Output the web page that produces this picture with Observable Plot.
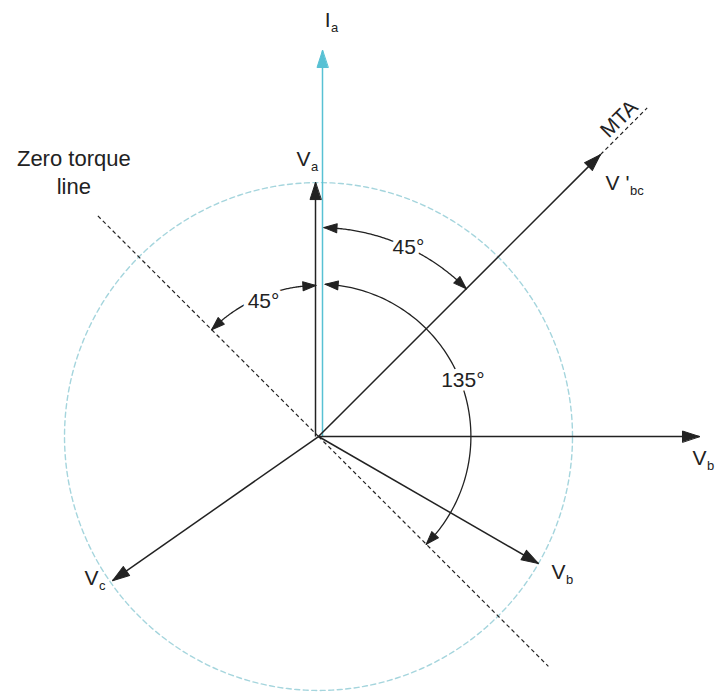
<!DOCTYPE html>
<html><head><meta charset="utf-8">
<script src="https://cdn.jsdelivr.net/npm/d3@7"></script>
<script src="https://cdn.jsdelivr.net/npm/@observablehq/plot@0.6"></script>
<style>body{margin:0;background:#fff} svg{display:block;background:#fff}</style>
</head><body><div id="chart"></div>
<script>
// ---- data (magnitudes relative to the dashed reference circle = 1) ----
const phasorNames = ["I", "V", "V", "V '", "V", "V"];
const phasorSubs = ["a", "a", "b", "bc", "b", "c"];
const phasorAngles = [90, 90, 0, 45, -30, 215];
const phasorMagnitudes = [1.52, 1.0, 1.50, 1.57, 1.0, 0.99];

const lineNames = ["MTA", "Zero torque\nline", ""];
const lineAngles = [45, 135, -45];
const lineFrom = [1.57, 0, 0];
const lineTo = [1.83, 1.24, 1.28];

const arcLabels = ["45°", "45°", "135°"];
const arcFrom = [88.5, 91, 87.5];
const arcTo = [45, 135, -45];
const arcRadius = [0.823, 0.595, 0.6];
const referenceRadius = 1;

// ---- helpers ----
const unitPx = 254; // pixels per unit with the scales below
const rad = (a) => a * Math.PI / 180;
const px = (m, a) => m * Math.cos(rad(a));
const py = (m, a) => m * Math.sin(rad(a));
const INK = "#222";
const CYAN = "#58c1d4";
const FONT = "Liberation Sans, Arial, sans-serif";

// pixel shifts (layout): parallel offset of the two vertical phasors, label offsets from tips
const shaftShift = [4, -3, 0, 0, 0, 0];
const labelOffset = [[8, -30], [-5, -23], [7, 22], [29, 29], [27, 9], [-14, -2]];

const phasors = phasorNames.map((name, i) => {
  const sx = shaftShift[i] / unitPx;
  const tx = px(phasorMagnitudes[i], phasorAngles[i]) + sx;
  const ty = py(phasorMagnitudes[i], phasorAngles[i]);
  return {
    name, sub: phasorSubs[i], angle: phasorAngles[i], i,
    x0: sx, y0: 0, tx, ty,
    lx: tx + labelOffset[i][0] / unitPx, ly: ty - labelOffset[i][1] / unitPx
  };
});

const headShape = {
  draw(ctx, l, r) { ctx.moveTo(0, -l); ctx.lineTo(-r, 0); ctx.lineTo(r, 0); ctx.closePath(); }
};

const dashed = lineNames.map((name, i) => ({name, angle: lineAngles[i], from: lineFrom[i], to: lineTo[i]}));

const circlePts = d3.range(0, 361, 1).map(a => ({x: px(referenceRadius, a), y: py(referenceRadius, a)}));

const arcs = arcLabels.map((label, i) => {
  const a0 = arcFrom[i], a1 = arcTo[i], r = arcRadius[i];
  const n = 120;
  const pts = d3.range(n + 1).map(k => {
    const a = a0 + (a1 - a0) * k / n;
    return {x: px(r, a), y: py(r, a), arc: i};
  });
  return {label, a0, a1, r, pts, i};
});
const arcPts = arcs.flatMap(d => d.pts);

// arrow heads at both ends of each arc
const headLen = 13;
const arcHeads = arcs.flatMap(d => {
  const res = [];
  for (const [end, other] of [[d.a1, d.a0], [d.a0, d.a1]]) {
    const back = (headLen / unitPx / d.r) * 180 / Math.PI * Math.sign(other - end);
    const bx = px(d.r, end + back), by = py(d.r, end + back);
    const tx = px(d.r, end), ty = py(d.r, end);
    const dir = Math.atan2(ty - by, tx - bx) * 180 / Math.PI;
    res.push({x: tx, y: ty, rot: 90 - dir});
  }
  return res;
});
const arcLabelPos = [[0.55, 0.825], [0.48, 0.575], [0.5, 0.61]];
const arcText = arcs.map((d, i) => {
  const [f, r] = arcLabelPos[i];
  const a = d.a0 + (d.a1 - d.a0) * f;
  return {label: d.label, x: px(r, a), y: py(r, a)};
});

const chart = Plot.plot({
  width: 715, height: 693,
  margin: 0,
  x: {domain: [-1.252, 1.563], range: [0, 715], axis: null},
  y: {domain: [-1.012, 1.717], range: [693, 0], axis: null},
  marks: [
    // reference circle
    Plot.line(circlePts, {x: "x", y: "y", stroke: "#a5d5dd", strokeWidth: 1.4, strokeDasharray: "5,3.5"}),
    // dashed lines: MTA extension and zero torque line
    Plot.link(dashed, {
      x1: d => px(d.from, d.angle), y1: d => py(d.from, d.angle),
      x2: d => px(d.to, d.angle), y2: d => py(d.to, d.angle),
      stroke: INK, strokeWidth: 1.2, strokeDasharray: "4,3"
    }),
    // phasor shafts
    Plot.link(phasors, {
      x1: "x0", y1: "y0", x2: "tx", y2: "ty",
      stroke: d => d.i === 0 ? CYAN : INK,
      strokeWidth: 1.5, strokeLinecap: "butt"
    }),
    // angle arcs
    Plot.line(arcPts, {x: "x", y: "y", z: "arc", stroke: INK, strokeWidth: 1.3}),
    Plot.vector(arcHeads, {x: "x", y: "y", rotate: "rot", length: headLen, r: 4.5, anchor: "end",
      shape: headShape, fill: INK, stroke: INK, strokeWidth: 1}),
    // phasor arrow heads
    Plot.vector(phasors, {
      x: "tx", y: "ty", rotate: d => 90 - d.angle,
      length: 17, r: 5.5, anchor: "end", shape: headShape,
      fill: d => d.i === 0 ? CYAN : INK, stroke: d => d.i === 0 ? CYAN : INK, strokeWidth: 1
    }),
    // angle labels (with halo to break the arc)
    Plot.text(arcText, {x: "x", y: "y", text: "label", fontSize: 21, fontFamily: FONT,
      fill: INK, stroke: "white", strokeWidth: 9}),
    // phasor labels: main letter + subscript
    Plot.text(phasors, {
      x: "lx", y: "ly", text: "name",
      textAnchor: "end", fontSize: 21, fontFamily: FONT, fill: INK
    }),
    Plot.text(phasors, {
      x: "lx", y: "ly", text: "sub", dx: 0.5, dy: 7,
      textAnchor: "start", fontSize: 13, fontFamily: FONT, fill: INK
    }),
    // MTA label
    Plot.text(dashed.slice(0, 1), {
      x: d => px(d.to, d.angle), y: d => py(d.to, d.angle), text: "name",
      dx: -28, dy: 11, rotate: -45, fontSize: 21, fontFamily: FONT, fill: INK
    }),
    // Zero torque line label
    Plot.text(dashed.slice(1, 2), {
      x: d => px(d.to, d.angle), y: d => py(d.to, d.angle), text: "name",
      dx: -22, dy: -43, lineHeight: 1.3, fontSize: 22, fontFamily: FONT, fill: INK
    })
  ]
});
document.getElementById("chart").append(chart);
</script>
</body></html>
